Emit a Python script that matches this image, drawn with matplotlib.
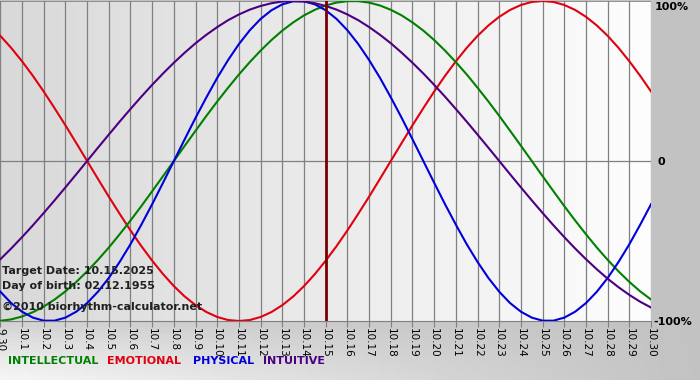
import numpy as np
import matplotlib
matplotlib.use("Agg")
import matplotlib.pyplot as plt

# day labels from 9.30 to 10.30
tick_labels = ["9.30"] + ["10.%d" % d for d in range(1, 31)]

# rhythm values, every half day from 9.30 to 10.30
physical = [-0.817, -0.888, -0.942, -0.979, -0.998, -0.998, -0.979, -0.942, -0.888, -0.817,
            -0.731, -0.631, -0.520, -0.398, -0.270, -0.136, 0.000,
            0.136, 0.270, 0.398, 0.520, 0.631, 0.731, 0.817, 0.888, 0.942, 0.979, 0.998,
            0.998, 0.979, 0.942, 0.888, 0.817, 0.731, 0.631, 0.520, 0.398, 0.270, 0.136,
            0.000,
            -0.136, -0.270, -0.398, -0.520, -0.631, -0.731, -0.817, -0.888, -0.942, -0.979,
            -0.998, -0.998, -0.979, -0.942, -0.888, -0.817, -0.731, -0.631, -0.520, -0.398, -0.270]
emotional = [0.782, 0.707, 0.623, 0.532, 0.434, 0.330, 0.223, 0.112, 0.000,
             -0.112, -0.223, -0.330, -0.434, -0.532, -0.623, -0.707, -0.782, -0.847, -0.901,
             -0.944, -0.975, -0.994, -1.000,
             -0.994, -0.975, -0.944, -0.901, -0.847, -0.782, -0.707, -0.623, -0.532, -0.434,
             -0.330, -0.223, -0.112, 0.000,
             0.112, 0.223, 0.330, 0.434, 0.532, 0.623, 0.707, 0.782, 0.847, 0.901, 0.944,
             0.975, 0.994, 1.000,
             0.994, 0.975, 0.944, 0.901, 0.847, 0.782, 0.707, 0.623, 0.532, 0.434]
intellectual = [-0.999, -0.990, -0.972, -0.945, -0.910, -0.866, -0.815, -0.756, -0.690, -0.618,
                -0.541, -0.458, -0.372, -0.282, -0.189, -0.095, 0.000,
                0.095, 0.189, 0.282, 0.372, 0.458, 0.541, 0.618, 0.690, 0.756, 0.815, 0.866,
                0.910, 0.945, 0.972, 0.990, 0.999,
                0.999, 0.990, 0.972, 0.945, 0.910, 0.866, 0.815, 0.756, 0.690, 0.618, 0.541,
                0.458, 0.372, 0.282, 0.189, 0.095, 0.000,
                -0.095, -0.189, -0.282, -0.372, -0.458, -0.541, -0.618, -0.690, -0.756, -0.815, -0.866]
intuitive = [-0.614, -0.547, -0.476, -0.402, -0.325, -0.246, -0.165, -0.083, 0.000,
             0.083, 0.165, 0.246, 0.325, 0.402, 0.476, 0.547, 0.614, 0.677, 0.736, 0.789,
             0.837, 0.880, 0.916, 0.946, 0.969, 0.986, 0.997, 1.000,
             0.997, 0.986, 0.969, 0.946, 0.916, 0.880, 0.837, 0.789, 0.736, 0.677, 0.614,
             0.547, 0.476, 0.402, 0.325, 0.246, 0.165, 0.083, 0.000,
             -0.083, -0.165, -0.246, -0.325, -0.402, -0.476, -0.547, -0.614, -0.677, -0.736,
             -0.789, -0.837, -0.880, -0.916]

target_day = 15  # 10.15

fig = plt.figure(figsize=(7, 3.8), dpi=100)

# grey background, lighter toward the bottom left
bg = fig.add_axes([0, 0, 1, 1], zorder=0)
gx = np.linspace(0, 1, 200)
gy = np.linspace(0, 1, 100)
GX, GY = np.meshgrid(gx, gy)
shade = 0.76 + 0.20 * (1 - GX) * np.clip((0.18 - GY) / 0.18, 0, 1) ** 0.7
bg.imshow(shade, cmap="gray", vmin=0, vmax=1, extent=[0, 1, 0, 1],
          aspect="auto", origin="lower")
bg.axis("off")

ax = fig.add_axes([0.0005, 0.1553, 0.9296, 0.8421], zorder=1)
ax.set_xlim(0, 30)
ax.set_ylim(-1, 1)

# plot area gradient: grey left, white right
grad = np.linspace(0.847, 0.99, 200).reshape(1, -1)
ax.imshow(grad, cmap="gray", vmin=0, vmax=1, extent=[0, 30, -1, 1],
          aspect="auto", zorder=0)

for d in range(31):
    ax.axvline(d, color="#808080", lw=0.9, zorder=1)
ax.axhline(0, color="#808080", lw=0.9, zorder=1)
ax.axhline(1, color="#808080", lw=1.2, zorder=1)

x = np.arange(len(physical)) / 2
ax.plot(x, emotional, color="#e00010", lw=1.5, zorder=3)
ax.plot(x, intellectual, color="#008000", lw=1.5, zorder=3)
ax.plot(x, physical, color="#0000dd", lw=1.5, zorder=3)
ax.plot(x, intuitive, color="#4b0082", lw=1.5, zorder=3)

ax.axvline(target_day, color="#7a0000", lw=2.0, zorder=4)

for s in ["top", "right", "left"]:
    ax.spines[s].set_visible(False)
ax.spines["bottom"].set_color("#808080")
ax.set_yticks([])
ax.set_xticks(range(31))
ax.set_xticklabels(tick_labels, rotation=270, fontsize=7.5)
ax.tick_params(axis="x", length=4, color="#808080", pad=1)

info = dict(fontsize=8, fontweight="bold", color="#202020", zorder=5)
ax.text(0.08, -0.6875, "Target Date: 10.15.2025", va="center", **info)
ax.text(0.08, -0.78, "Day of birth: 02.12.1955", va="center", **info)
ax.text(0.08, -0.9125, "\u00a92010 biorhythm-calculator.net", va="center", **info)

# scale labels on the right
fig.text(655 / 700, 1 - 7 / 380, "100%", fontsize=8, fontweight="bold", va="center")
fig.text(658 / 700, 1 - 162 / 380, "0", fontsize=8, fontweight="bold", va="center")
fig.text(653 / 700, 1 - 322 / 380, "-100%", fontsize=8, fontweight="bold", va="center")

# legend row
legend = [("INTELLECTUAL", "#008000", 8), ("EMOTIONAL", "#e00010", 107),
          ("PHYSICAL", "#0000dd", 193), ("INTUITIVE", "#4b0082", 263)]
for name, col, px in legend:
    fig.text(px / 700, 1 - 361 / 380, name, color=col, fontsize=8,
             fontweight="bold", va="center")

fig.savefig("out.png", dpi=100)
